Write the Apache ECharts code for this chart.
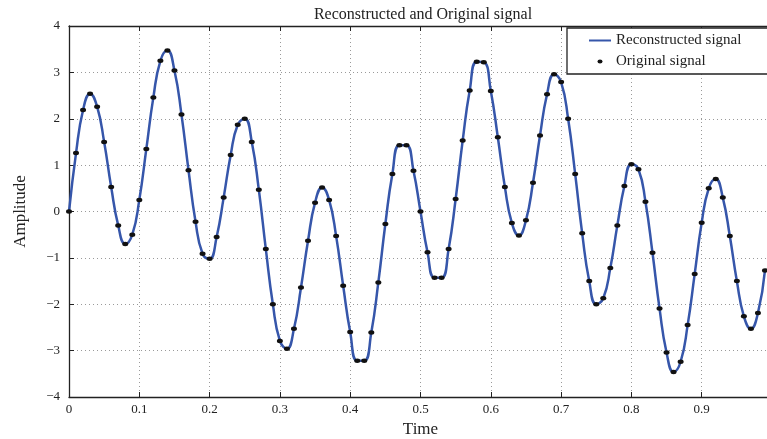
<!DOCTYPE html>
<html>
<head>
<meta charset="utf-8">
<script src="https://cdn.jsdelivr.net/npm/echarts@6/dist/echarts.min.js"></script>
<style>
html,body{margin:0;padding:0;background:#fff;}
#chart{width:767px;height:439px;}
</style>
</head>
<body>
<div id="chart"></div>
<script>
const amplitude = [
  0, 1.26, 2.19, 2.54, 2.26, 1.50, 0.53, -0.30, -0.70, -0.50,
  0.25, 1.35, 2.46, 3.25, 3.47, 3.04, 2.09, 0.89, -0.22, -0.91,
  -1.02, -0.55, 0.30, 1.22, 1.87, 2.00, 1.50, 0.47, -0.81, -2.00,
  -2.79, -2.96, -2.53, -1.64, -0.63, 0.19, 0.52, 0.25, -0.53, -1.60,
  -2.60, -3.22, -3.22, -2.61, -1.53, -0.27, 0.81, 1.43, 1.43, 0.88,
  0, -0.88, -1.43, -1.43, -0.81, 0.27, 1.53, 2.61, 3.23, 3.22,
  2.60, 1.60, 0.53, -0.25, -0.52, -0.19, 0.62, 1.64, 2.53, 2.96,
  2.79, 2.00, 0.81, -0.47, -1.50, -2.00, -1.87, -1.22, -0.30, 0.55,
  1.02, 0.91, 0.21, -0.89, -2.09, -3.04, -3.46, -3.24, -2.45, -1.35,
  -0.24, 0.50, 0.70, 0.30, -0.53, -1.50, -2.26, -2.53, -2.19, -1.27
];
const sampleStep = 0.01;
const time = amplitude.map((_, i) => +(i * sampleStep).toFixed(2));
const xTicks = [0, 0.1, 0.2, 0.3, 0.4, 0.5, 0.6, 0.7, 0.8, 0.9];
const yTicks = [-4, -3, -2, -1, 0, 1, 2, 3, 4];
const titleText = 'Reconstructed and Original signal';
const seriesNames = ['Reconstructed signal', 'Original signal'];

const points = time.map((t, i) => [t, amplitude[i]]);
const FONT = 'Liberation Serif';

const chart = echarts.init(document.getElementById('chart'), null, {renderer: 'canvas'});
const fmtX = v => {
  const r = Math.round(v * 10) / 10;
  if (Math.abs(v - r) > 1e-6 || r >= 1) return '';
  return String(r);
};
const fmtY = v => (v < 0 ? '\u2212' + Math.abs(v) : String(v));

chart.setOption({
  animation: false,
  backgroundColor: '#fff',
  title: {
    text: titleText,
    left: 418, textAlign: 'center', top: 2,
    textStyle: {fontFamily: FONT, fontSize: 16, fontWeight: 'normal', color: '#222'}
  },
  legend: {
    orient: 'vertical',
    left: 567, top: 28,
    padding: [5, 40, 5, 22],
    itemGap: 6,
    itemWidth: 22, itemHeight: 14,
    backgroundColor: '#fff',
    borderColor: '#222', borderWidth: 1.3, borderRadius: 0,
    textStyle: {fontFamily: FONT, fontSize: 15, color: '#222', padding: [0, 0, 0, 0]},
    data: [
      {name: seriesNames[0], icon: 'path://M0,0M22,14M0,6H22V8H0Z', itemStyle: {color: '#3656aa', borderWidth: 0}},
      {name: seriesNames[1], icon: 'path://M0,0M22,14M8.5,7a2.5,2 0 1,0 5,0a2.5,2 0 1,0 -5,0Z'}
    ]
  },
  grid: {left: 69, right: -5, top: 26, bottom: 42, containLabel: false, outerBoundsMode: 'none'},
  xAxis: [{
    type: 'value', min: 0, max: 1, interval: 0.1,
    name: 'Time', nameLocation: 'middle', nameGap: 24,
    nameTextStyle: {fontFamily: FONT, fontSize: 17, color: '#222'},
    axisLine: {show: true, onZero: false, lineStyle: {color: '#222', width: 1.3}},
    axisTick: {show: true, inside: true, length: 5, lineStyle: {color: '#222'}},
    axisLabel: {formatter: fmtX, fontFamily: FONT, fontSize: 13, color: '#222', margin: 6, showMaxLabel: false},
    splitLine: {show: true, lineStyle: {type: [1, 3], color: '#9a9a9a', width: 1}}
  }, {
    type: 'value', min: 0, max: 1, interval: 0.1, position: 'top',
    axisLine: {show: true, onZero: false, lineStyle: {color: '#222', width: 1.3}},
    axisTick: {show: true, inside: true, length: 5, lineStyle: {color: '#222'}},
    axisLabel: {show: false}, splitLine: {show: false}
  }],
  yAxis: [{
    type: 'value', min: -4, max: 4, interval: 1,
    name: 'Amplitude', nameLocation: 'middle', nameGap: 40, nameRotate: 90,
    nameTextStyle: {fontFamily: FONT, fontSize: 17, color: '#222'},
    axisLine: {show: true, onZero: false, lineStyle: {color: '#222', width: 1.3}},
    axisTick: {show: true, inside: true, length: 5, lineStyle: {color: '#222'}},
    axisLabel: {formatter: fmtY, fontFamily: FONT, fontSize: 13, color: '#222', margin: 9},
    splitLine: {show: true, lineStyle: {type: [1, 3], color: '#9a9a9a', width: 1}}
  }],
  series: [{
    name: seriesNames[0],
    type: 'line',
    data: points,
    smooth: 0.5,
    symbol: 'none',
    lineStyle: {color: '#3656aa', width: 2.5},
    itemStyle: {color: '#3656aa'},
    z: 2
  }, {
    name: seriesNames[1],
    type: 'scatter',
    data: points,
    symbol: 'circle',
    symbolSize: [6, 4.5],
    itemStyle: {color: '#111', opacity: 1},
    z: 3
  }]
});
</script>
</body>
</html>
